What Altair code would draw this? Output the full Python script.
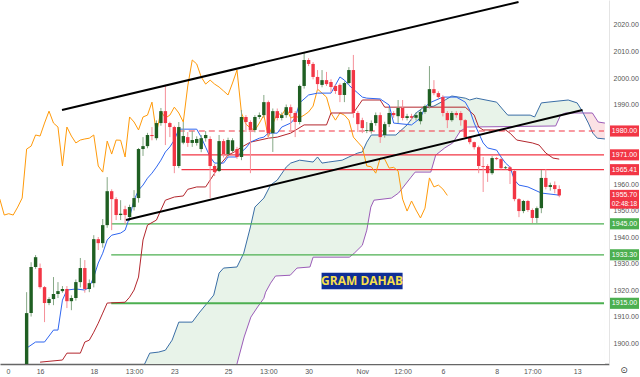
import altair as alt
import pandas as pd
import numpy as np

FONT = "Liberation Sans"

# ---------------- candles (4H bars, index 0..119) ----------------
opens = [1885.0, 1911.3, 1928.7, 1928.3, 1921.1, 1915.1, 1916.6, 1918.5, 1919.6, 1920.4,
         1915.8, 1917.0, 1923.0, 1928.3, 1920.4, 1922.6, 1939.2, 1937.7, 1944.5, 1957.3,
         1954.3, 1948.3, 1950.5, 1947.6, 1951.3, 1954.7, 1973.2, 1974.3, 1978.5, 1977.3,
         1983.0, 1987.5, 1983.0, 1981.5, 1966.8, 1975.6, 1977.7, 1975.5, 1975.5, 1973.2,
         1977.3, 1977.0, 1966.8, 1964.9, 1976.2, 1971.3, 1972.5, 1973.2, 1970.2, 1985.3,
         1983.4, 1980.4, 1985.3, 1986.0, 1990.9, 1979.2, 1987.5, 1984.9, 1986.0, 1989.0,
         1986.8, 1983.4, 1997.0, 2006.8, 2005.3, 2000.4, 1997.4, 1999.2, 1998.5, 1997.0,
         1997.4, 1993.6, 1998.1, 2003.0, 1986.8, 1984.1, 1980.0, 1980.0, 1983.0, 1986.0,
         1978.5, 1982.6, 1986.8, 1985.6, 1988.7, 1984.9, 1985.6, 1985.0, 1983.7, 1987.2,
         1989.4, 1995.8, 1994.3, 1992.8, 1986.8, 1984.1, 1986.8, 1986.8, 1984.1, 1977.7,
         1975.8, 1973.9, 1966.8, 1966.8, 1964.1, 1969.8, 1969.4, 1966.0, 1966.3, 1964.9,
         1954.3, 1949.8, 1953.6, 1950.2, 1947.2, 1950.9, 1962.3, 1958.9, 1959.6, 1958.1]
highs = [1919.2, 1930.5, 1933.2, 1930.0, 1921.5, 1917.3, 1924.9, 1923.0, 1921.5, 1921.5,
         1918.0, 1924.0, 1932.1, 1931.3, 1924.0, 1940.7, 1940.0, 1946.8, 1962.6, 1958.0,
         1955.0, 1953.9, 1951.8, 1952.2, 1957.7, 1973.6, 1977.7, 1979.3, 1981.5, 1984.0,
         1988.7, 1997.4, 1983.5, 1982.0, 1983.4, 1983.4, 1979.6, 1980.0, 1978.0, 1978.5,
         1980.0, 1978.0, 1967.5, 1978.5, 1977.0, 1977.5, 1977.3, 1974.0, 1987.9, 1986.0,
         1984.0, 1986.0, 1987.0, 1993.6, 1991.5, 1988.5, 1988.5, 1987.0, 1990.0, 1990.0,
         1987.5, 1997.5, 2009.8, 2007.5, 2006.0, 2003.0, 2003.0, 2002.3, 1999.5, 1997.5,
         1998.0, 1998.7, 2004.1, 2008.7, 1987.5, 1985.0, 1983.4, 1984.0, 1987.0, 1987.0,
         1983.5, 1988.7, 1987.5, 1991.7, 1991.7, 1986.5, 1986.5, 1987.0, 1988.0, 1990.0,
         2004.5, 1999.2, 1995.0, 1993.5, 1987.5, 1987.5, 1987.5, 1987.5, 1984.5, 1978.0,
         1976.0, 1974.5, 1970.2, 1967.5, 1970.5, 1970.2, 1970.0, 1966.8, 1966.8, 1965.3,
         1954.7, 1954.0, 1954.0, 1950.8, 1951.5, 1965.3, 1965.6, 1960.5, 1961.0, 1959.5]
lows = [1883.0, 1910.0, 1928.0, 1920.5, 1907.9, 1914.3, 1914.3, 1917.0, 1919.0, 1913.2,
        1912.4, 1916.0, 1921.0, 1919.0, 1919.2, 1921.0, 1935.1, 1936.0, 1943.5, 1942.6,
        1946.4, 1946.4, 1944.9, 1946.0, 1950.0, 1953.0, 1970.6, 1973.5, 1976.5, 1976.5,
        1982.0, 1974.7, 1977.7, 1964.1, 1966.0, 1975.0, 1974.0, 1974.0, 1974.5, 1972.0,
        1976.0, 1954.7, 1963.0, 1964.5, 1970.0, 1970.5, 1972.0, 1969.5, 1969.0, 1979.6,
        1964.1, 1979.5, 1984.5, 1985.0, 1977.7, 1972.1, 1984.0, 1984.0, 1985.0, 1980.4,
        1977.7, 1982.5, 1996.0, 2004.5, 1999.5, 1995.5, 1996.5, 1997.0, 1994.7, 1994.0,
        1990.9, 1990.9, 1997.5, 1985.0, 1979.6, 1979.2, 1979.2, 1979.0, 1982.0, 1975.5,
        1977.5, 1981.5, 1985.0, 1983.0, 1984.0, 1984.0, 1984.0, 1984.0, 1982.5, 1986.5,
        1988.5, 1993.5, 1992.0, 1985.5, 1981.1, 1983.5, 1985.0, 1982.0, 1977.0, 1975.0,
        1973.0, 1964.1, 1957.0, 1960.8, 1963.5, 1969.0, 1965.5, 1965.5, 1960.0, 1953.5,
        1947.5, 1949.0, 1949.5, 1945.3, 1945.3, 1949.0, 1958.0, 1957.5, 1956.5, 1955.0]
closes = [1911.3, 1928.7, 1932.4, 1921.1, 1915.1, 1916.6, 1918.5, 1919.6, 1920.4, 1915.8,
          1917.0, 1923.0, 1928.3, 1920.4, 1922.6, 1939.2, 1937.7, 1944.5, 1957.3, 1954.3,
          1948.3, 1948.8, 1948.3, 1951.3, 1954.7, 1973.2, 1974.3, 1978.5, 1978.1, 1983.0,
          1987.5, 1983.0, 1981.5, 1966.8, 1981.5, 1978.1, 1975.5, 1976.6, 1977.0, 1977.3,
          1978.5, 1966.8, 1964.5, 1976.2, 1971.3, 1976.6, 1976.5, 1970.2, 1985.3, 1983.4,
          1980.4, 1985.3, 1986.0, 1990.9, 1979.2, 1987.5, 1984.9, 1986.0, 1989.0, 1986.8,
          1983.4, 1997.0, 2006.8, 2005.3, 2000.4, 1997.7, 1999.2, 1997.7, 1996.6, 1995.1,
          1993.6, 1998.1, 2003.0, 1986.8, 1982.6, 1981.1, 1980.3, 1983.0, 1986.0, 1977.7,
          1982.6, 1986.8, 1986.0, 1988.7, 1984.9, 1985.6, 1985.0, 1986.0, 1987.2, 1989.4,
          1995.8, 1994.3, 1992.8, 1986.8, 1984.1, 1986.8, 1986.0, 1984.1, 1977.7, 1975.8,
          1973.9, 1966.8, 1966.5, 1964.1, 1969.8, 1969.4, 1966.0, 1966.3, 1964.9, 1954.3,
          1949.8, 1953.6, 1950.2, 1947.2, 1950.9, 1962.3, 1958.9, 1959.6, 1958.1, 1955.7]

# ---------------- Ichimoku lines ----------------
tenkan_k = [0, 2, 4, 6, 7, 8, 9, 11, 13, 14, 15, 16, 17, 18, 19, 21, 22, 23, 24, 25,
            26, 27, 28, 29, 30, 31, 32, 33, 34, 38, 39, 40, 41, 42, 44, 45, 47, 48, 49, 50,
            52, 53, 54, 56, 57, 59, 60, 61, 63, 65, 68, 70, 71, 72, 74, 75, 76, 79, 81, 82,
            86, 88, 89, 90, 93, 96, 98, 99, 100, 101, 102, 103, 105, 106, 107, 108, 109, 110, 112, 115,
            119]
tenkan = [1898.1, 1900.4, 1900.4, 1904.9, 1904.9, 1916.2, 1920.0, 1920.4, 1920.0, 1921.1,
          1924.9, 1930.2, 1933.9, 1938.9, 1940.7, 1941.5, 1942.6, 1947.5, 1953.9, 1957.7,
          1959.6, 1962.2, 1964.1, 1966.4, 1969.0, 1972.1, 1974.0, 1976.6, 1980.7, 1980.7,
          1977.7, 1973.9, 1970.2, 1967.9, 1967.9, 1970.2, 1970.2, 1972.1, 1973.6, 1975.8,
          1977.3, 1977.7, 1979.2, 1979.2, 1981.5, 1983.0, 1984.9, 1990.6, 1993.6, 1994.3,
          1994.3, 2000.4, 1999.2, 1997.3, 1994.3, 1992.8, 1992.4, 1992.1, 1989.8, 1983.0,
          1982.3, 1984.9, 1989.0, 1990.6, 1992.8, 1992.8, 1990.9, 1987.9, 1983.0, 1979.2,
          1975.5, 1973.6, 1972.8, 1970.2, 1967.9, 1966.4, 1961.5, 1959.6, 1958.9, 1956.6,
          1955.8]

kijun_k = [3, 8, 9, 12, 13, 14, 15, 16, 17, 18, 22, 23, 24, 25, 26, 27, 29, 30, 31, 33,
           35, 36, 38, 40, 42, 43.5, 45, 46.4, 48, 50, 54, 56, 59, 62, 67, 68, 73, 75, 79, 80,
           98, 100, 101, 102, 107, 108, 109.5, 113, 114.5, 116, 117.6, 119]
kijun = [1892.8, 1893.6, 1896.2, 1896.2, 1900.4, 1901.1, 1904.1, 1907.5, 1911.3, 1915.1,
         1915.4, 1917.3, 1920.0, 1924.9, 1938.9, 1944.5, 1946.4, 1950.2, 1953.9, 1955.1,
         1955.5, 1958.0, 1958.9, 1958.9, 1964.1, 1967.9, 1970.9, 1972.1, 1973.9, 1975.8,
         1977.3, 1977.7, 1979.2, 1982.3, 1982.3, 1986.8, 1986.8, 1991.7, 1991.7, 1989.0,
         1989.0, 1986.0, 1981.5, 1980.4, 1980.4, 1979.2, 1976.6, 1975.5, 1974.7, 1971.7,
         1969.8, 1969.4]

span_a_k = [25.5, 27.5, 29.5, 31, 32.5, 34, 37, 38.5, 41.8, 43, 44, 47, 48.5, 50, 51, 53,
            54.5, 56, 58, 59, 61, 64, 65, 66, 67.5, 70.5, 72, 74, 75, 76, 77, 82.5, 85, 87,
            88.5, 91, 93.5, 95, 98, 99, 100.5, 105, 106.5, 107.5, 112.5, 113.5, 115, 116.5,
            121, 123, 124, 125.5, 126.5, 127.5, 129.2]
span_a = [1889.0, 1896.2, 1896.6, 1897.3, 1901.1, 1907.9, 1907.9, 1911.3, 1918.1, 1926.4,
          1928.3, 1928.7, 1933.9, 1943.8, 1951.3, 1954.7, 1959.6, 1961.5, 1966.4, 1967.9,
          1969.0, 1968.3, 1970.2, 1967.9, 1968.3, 1969.0, 1970.2, 1971.7, 1972.1, 1975.8,
          1978.5, 1978.5, 1982.3, 1986.8, 1988.7, 1989.4, 1991.7, 1993.2, 1992.4, 1991.7,
          1992.4, 1990.9, 1987.9, 1986.0, 1986.0, 1985.3, 1990.6, 1990.9, 1991.7, 1990.6,
          1987.9, 1983.0, 1979.2, 1977.3, 1977.0]

span_b_k = [46.5, 48.6, 50.1, 51.6, 53, 53.4, 54.5, 55.6, 58.9, 60.4, 63.3, 64, 72.1, 73.2,
            75, 76, 76.9, 77.6, 81.5, 83.1, 85.9, 86.8, 90.3, 91.4, 93.4, 95.2, 96.9, 98.5,
            118.2, 119.3, 120.4, 126.4, 127.7, 129.2]
span_b = [1889.0, 1902.3, 1909.8, 1913.6, 1916.9, 1919.2, 1922.6, 1925.3, 1925.6, 1928.3,
          1928.7, 1932.4, 1932.4, 1933.9, 1936.9, 1942.6, 1951.3, 1953.9, 1954.7, 1956.6,
          1962.6, 1964.5, 1964.5, 1970.9, 1973.6, 1975.5, 1980.0, 1981.5, 1981.9, 1986.0,
          1986.8, 1986.8, 1983.4, 1983.0]

# bearish part of the cloud (span B above span A), read at the same bars
red_cloud_k = [124.4, 125.5, 126.4, 127.5, 127.7, 129.2]
red_cloud_a = [1986.8, 1983.0, 1979.5, 1977.3, 1977.2, 1977.0]
red_cloud_b = [1986.8, 1986.8, 1986.8, 1983.8, 1983.4, 1983.0]

CHIKOU_SHIFT = 25

# ---------------- drawings ----------------
trend_k1 = [7.9, 22.2]
trend_p1 = [1987.9, 1946.4]
trend_k2 = [109.9, 124.2]
trend_p2 = [2028.7, 1987.9]

level_price = [1980.0, 1971.0, 1965.41, 1945.0, 1933.3, 1915.0]
level_start = [34.0, 34.6, 34.6, 18.9, 18.9, 18.9]
level_kind = ["red_dash", "red", "red", "green", "green", "green_thick"]

tag_price = [1980.0, 1971.0, 1965.41, 1955.70, 1945.0, 1933.3, 1915.0]
tag_label = ["1980.00", "1971.00", "1965.41", "1955.70", "1945.00", "1933.30", "1915.00"]
tag_sub = ["", "", "", "02:48:18", "", "", ""]
tag_kind = ["red", "red", "red", "red", "green", "green", "green"]

# axis ticks (1970 and 1980 sit behind the price tags in the reference)
xtick_k = [-4.18, 3, 15, 24, 33, 45, 54, 63, 75, 84, 93, 105, 113, 123]
xtick_label = ["0", "16", "18", "13:00", "23", "25", "13:00", "30", "Nov", "12:00", "6", "8", "17:00", "13"]
ytick_vals = [1900, 1910, 1920, 1930, 1940, 1950, 1960, 1990, 2000, 2010, 2020]

note_text = ["GRAM DAHAB"]
note_k = [74.95]
note_p = [1923.4]
note_box_k = [65.9, 84.0]
note_box_p = [1920.3, 1926.5]

# ---------------- colours ----------------
UP, DN = "#1f5f22", "#f23645"
UP_WICK, DN_WICK = "#86a886", "#f58f98"
RED, GREEN = "#f23645", "#4caf50"

X_DOMAIN = [-4.835, 129.0]
Y_DOMAIN = [1892.1, 2029.43]

xs = alt.Scale(domain=X_DOMAIN, nice=False, zero=False)
ys = alt.Scale(domain=Y_DOMAIN, nice=False, zero=False)

vals_js = "[" + ",".join(str(v) for v in xtick_k) + "]"
labs_js = "[" + ",".join("'%s'" % s for s in xtick_label) + "]"

xaxis = alt.Axis(values=xtick_k, labelExpr=f"{labs_js}[indexof({vals_js}, datum.value)]",
                 ticks=False, grid=False, title=None, domainColor="#666666", domainWidth=1.5,
                 labelColor="#555555", labelFontSize=7, labelFont=FONT, labelPadding=3,
                 labelOverlap=False, labelFlush=False)
yaxis = alt.Axis(orient="right", values=ytick_vals, labelExpr="format(datum.value, '.2f')",
                 ticks=False, grid=False, title=None, domainColor="#e4e4e4", domainWidth=1,
                 labelColor="#555555", labelFontSize=7, labelFont=FONT, labelPadding=4,
                 labelOverlap=False, labelFlush=False)


def X(f):
    return alt.X(f, type="quantitative", scale=xs, axis=xaxis)


def Y(f):
    return alt.Y(f, type="quantitative", scale=ys, axis=yaxis)


candles = pd.DataFrame({"k": np.arange(len(closes)), "open": opens, "high": highs,
                        "low": lows, "close": closes})
df_tenkan = pd.DataFrame({"k": tenkan_k, "p": tenkan})
df_kijun = pd.DataFrame({"k": kijun_k, "p": kijun})
df_a = pd.DataFrame({"k": span_a_k, "p": span_a})
df_b = pd.DataFrame({"k": span_b_k, "p": span_b})
df_red = pd.DataFrame({"k": red_cloud_k, "a": red_cloud_a, "b": red_cloud_b})
df_chikou = pd.DataFrame({"k": np.arange(len(closes)) - CHIKOU_SHIFT, "p": closes})
df_trend = pd.DataFrame({"k1": trend_k1, "p1": trend_p1, "k2": trend_k2, "p2": trend_p2})
df_levels = pd.DataFrame({"p": level_price, "k": level_start, "kind": level_kind})
df_tags = pd.DataFrame({"p": tag_price, "label": tag_label, "sub": tag_sub, "kind": tag_kind})
df_note = pd.DataFrame({"k": note_k, "p": note_p, "t": note_text,
                        "k1": [note_box_k[0]], "k2": [note_box_k[1]],
                        "p1": [note_box_p[0]], "p2": [note_box_p[1]]})

BOTTOM = alt.datum(1880)

green_cloud = alt.Chart(df_a).mark_area(color="#e8f3e9", clip=True).encode(
    x=X("k"), y=Y("p"), y2=BOTTOM)
mask = alt.Chart(df_b).mark_area(color="#ffffff", clip=True).encode(
    x=X("k"), y=Y("p"), y2=BOTTOM)
red_cloud = alt.Chart(df_red).mark_area(color="#fbe2e5", clip=True).encode(
    x=X("k"), y=Y("b"), y2=alt.Y2("a"))


def line(df, color, w=1.0):
    return alt.Chart(df).mark_line(color=color, strokeWidth=w, clip=True).encode(
        x=X("k"), y=Y("p"))


la = line(df_a, "#3a6ea6")
lb = line(df_b, "#9b5cb8")
lchik = line(df_chikou, "#ff9a0a")
lkij = line(df_kijun, "#b3262d")
lten = line(df_tenkan, "#2f66f0")

color_map = alt.Scale(domain=["red", "red_dash", "green", "green_thick"],
                      range=[RED, RED, GREEN, GREEN])
lev_solid = alt.Chart(df_levels).transform_filter("datum.kind != 'red_dash'").mark_rule(
    clip=True).encode(
    x=X("k"), x2=alt.datum(X_DOMAIN[1]), y=Y("p"),
    color=alt.Color("kind:N", scale=color_map, legend=None),
    strokeWidth=alt.condition("datum.kind == 'green_thick'", alt.value(2), alt.value(1.2)))
lev_dash = alt.Chart(df_levels).transform_filter("datum.kind == 'red_dash'").mark_rule(
    clip=True, strokeDash=[6, 4], strokeWidth=1.2, color=RED).encode(
    x=X("k"), x2=alt.datum(X_DOMAIN[1]), y=Y("p"))

is_up = "datum.close >= datum.open"
wicks = alt.Chart(candles).mark_rule(strokeWidth=1, clip=True).encode(
    x=X("k"), y=Y("low"), y2=alt.Y2("high"),
    color=alt.condition(is_up, alt.value(UP_WICK), alt.value(DN_WICK)))
bodies = alt.Chart(candles).mark_bar(size=3.4, clip=True).encode(
    x=X("k"), y=Y("open"), y2=alt.Y2("close"),
    color=alt.condition(is_up, alt.value(UP), alt.value(DN)))

trend = alt.Chart(df_trend).mark_rule(color="#000000", strokeWidth=2, clip=True).encode(
    x=X("k1"), x2=alt.X2("k2"), y=Y("p1"), y2=alt.Y2("p2"))

note_box = alt.Chart(df_note).mark_rect(color="#0f2e96").encode(
    x=X("k1"), x2=alt.X2("k2"), y=Y("p1"), y2=alt.Y2("p2"))
note_txt = alt.Chart(df_note).mark_text(color="#f6df4c", fontSize=12, fontWeight="bold",
                                        font="Open Sans").encode(
    x=X("k"), y=Y("p"), text="t:N")

tag_colors = alt.Scale(domain=["red", "green"], range=[RED, "#43a047"])
tag_rect = alt.Chart(df_tags).transform_calculate(
    top="datum.p + 2.1",
    bot="datum.sub == '' ? datum.p - 2.1 : datum.p - 5.0").mark_rect().encode(
    x=alt.value(610), x2=alt.value(639), y=Y("top"), y2=alt.Y2("bot"),
    color=alt.Color("kind:N", scale=tag_colors, legend=None))
tag_txt = alt.Chart(df_tags).mark_text(color="white", fontSize=7, font=FONT).encode(
    x=alt.value(624.5), y=Y("p"), text="label:N")
tag_sub_txt = alt.Chart(df_tags).transform_filter("datum.sub != ''").transform_calculate(
    ps="datum.p - 3.1").mark_text(color="white", fontSize=6.5, font=FONT).encode(
    x=alt.value(624.5), y=Y("ps"), text="sub:N")

gear = alt.Chart(pd.DataFrame({"t": ["\u2299"]})).mark_text(
    color="#333333", fontSize=9, font="DejaVu Sans").encode(
    x=alt.value(624), y=alt.value(370), text="t:N")

chart = alt.layer(
    green_cloud, mask, red_cloud, la, lb,
    lev_solid, lev_dash,
    lchik, lkij, lten,
    wicks, bodies, trend,
    note_box, note_txt,
    tag_rect, tag_txt, tag_sub_txt, gear
).properties(
    width=609, height=364,
    autosize=alt.AutoSizeParams(type="none"),
    padding={"left": 0, "top": 0, "right": 31, "bottom": 13},
    background="white",
).configure_view(strokeWidth=0)

chart.save("out.html", embed_options={"renderer": "svg", "actions": False})
